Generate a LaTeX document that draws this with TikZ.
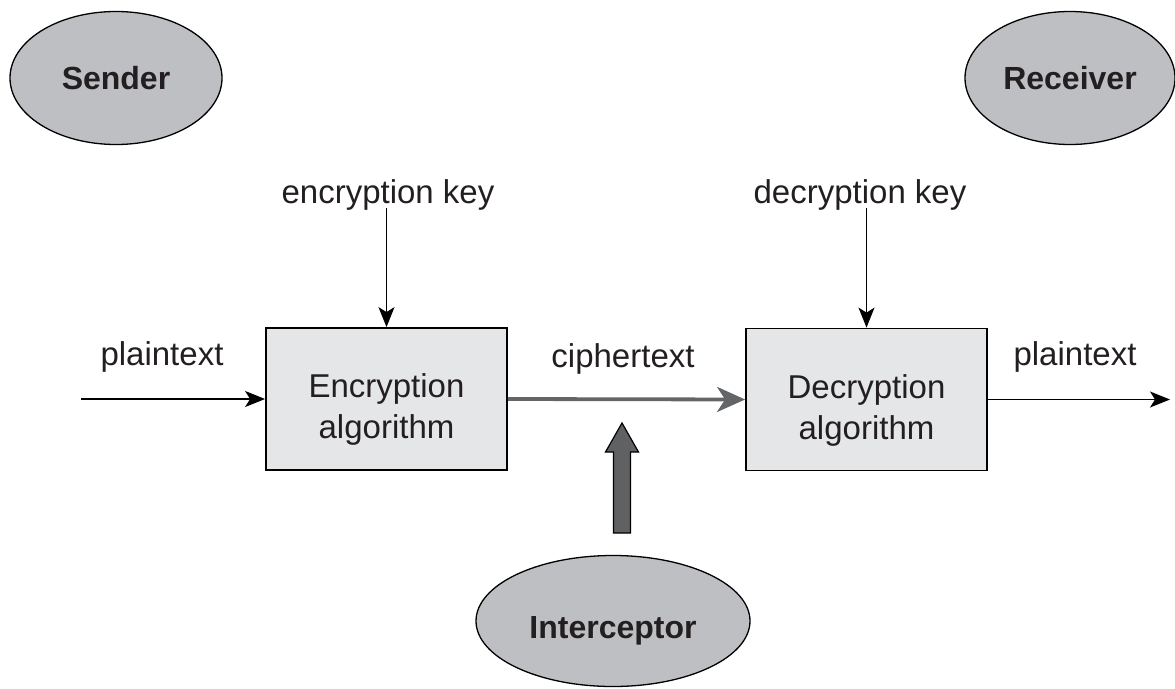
\documentclass[tikz,border=0pt]{standalone}
\usepackage{fontspec}
\setmainfont{Liberation Sans}
\usetikzlibrary{shapes.geometric,arrows.meta}
\definecolor{ellfill}{RGB}{189,191,194}
\definecolor{boxfill}{RGB}{229,230,232}
\definecolor{ciph}{RGB}{100,101,103}
\definecolor{intfill}{RGB}{96,97,99}
\definecolor{txt}{RGB}{35,31,32}
\begin{document}
\begin{tikzpicture}[x=1pt,y=-1pt,
  party/.style={ellipse,draw=black,line width=1.3pt,fill=ellfill,inner sep=0pt,
    font=\fontsize{32}{38}\selectfont\bfseries,text=txt},
  algbox/.style={rectangle,draw=black,line width=1.8pt,fill=boxfill,
    minimum width=241pt,minimum height=142pt,inner sep=0pt},
  algtext/.style={align=center,inner sep=0pt,anchor=north,
    font=\fontsize{33}{41}\selectfont,text=txt},
  lbl/.style={font=\fontsize{33}{40}\selectfont,text=txt,inner sep=0pt,anchor=base},
  flow/.style={line width=1.4pt,draw=black,-{Stealth[length=20pt,width=16pt,inset=5pt]}},
  cflow/.style={line width=3.8pt,draw=ciph,-{Stealth[length=28pt,width=25pt,inset=8pt]}},
  block/.style={draw=black,line width=1.2pt,fill=intfill,line join=miter}
]
\useasboundingbox (0,0) rectangle (1175,688);

% parties
\node[party,minimum width=212pt,minimum height=133pt] (sender) at (116,78) {Sender};
\node[party,minimum width=210pt,minimum height=133pt] (receiver) at (1070,78) {Receiver};
\node[party,minimum width=274pt,minimum height=131pt,text height=41pt,text depth=6pt] (interceptor) at (613,621) {Interceptor};

% algorithm boxes
\node[algbox] (enc) at (386.5,399) {};
\node[algtext] (enctext) at ([yshift=26pt]enc.center) {Encryption\\algorithm};
\node[algbox] (dec) at (866.5,399.5) {};
\node[algtext] (dectext) at ([yshift=25.5pt]dec.center) {Decryption\\algorithm};

% labels
\node[lbl] (enckey) at (388,203) {encryption key};
\node[lbl] (deckey) at (860,203) {decryption key};
\node[lbl] (ptin) at (162,365) {plaintext};
\node[lbl] (ctext) at (623,367) {ciphertext};
\node[lbl] (ptout) at (1075,365) {plaintext};

% connector end points
\coordinate (encKeyTop) at (386.5,208);
\coordinate (decKeyTop) at (866.5,208);
\coordinate (inStart) at (81,399);
\coordinate (outEnd) at (1170,399.5);

% connectors
\draw[flow] (encKeyTop) -- (enc.north);
\draw[flow] (decKeyTop) -- (dec.north);
\draw[flow] (inStart) -- (enc.west);
\draw[flow] (dec.east) -- (outEnd);
\draw[cflow] (enc.east) -- (dec.west);

% interceptor block arrow
\coordinate (tip) at (622,423);
\draw[block] (tip) -- (638.5,452) -- (630.5,452) -- (630.5,533) -- (613.5,533)
  -- (613.5,452) -- (605.5,452) -- cycle;
\end{tikzpicture}
\end{document}
